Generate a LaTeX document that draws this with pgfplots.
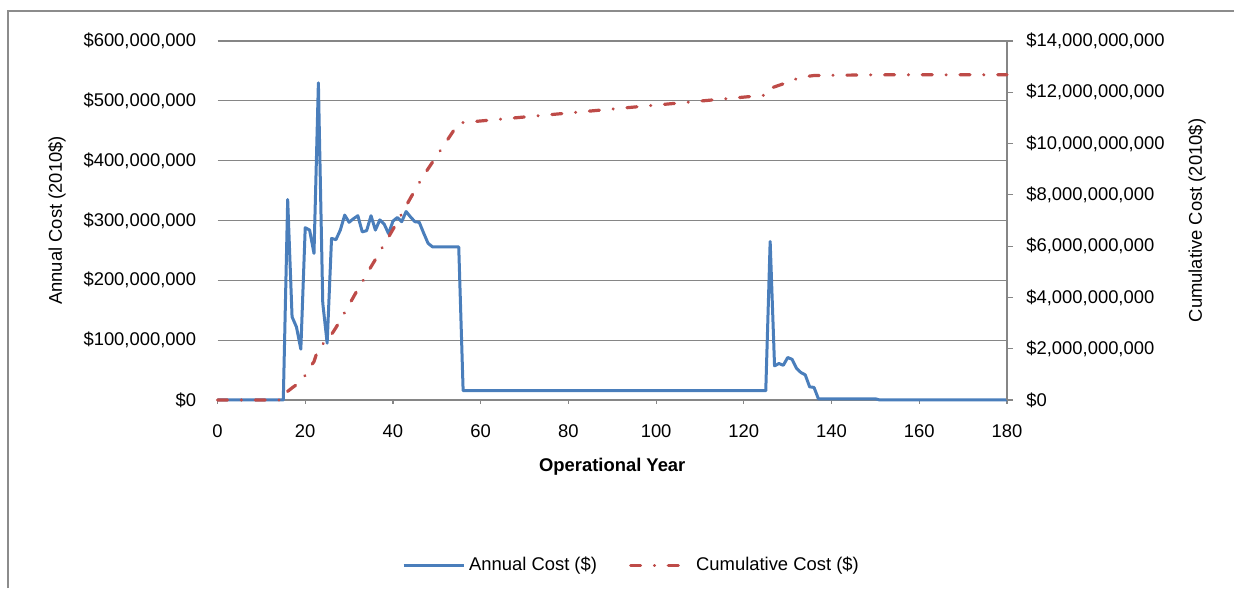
\documentclass[border=0pt]{standalone}
\usepackage{pgfplots}
\pgfplotsset{compat=1.18}
\usepackage{fontspec}
\setmainfont{Liberation Sans}
\definecolor{cblue}{HTML}{4A7EBB}
\definecolor{cred}{HTML}{BE4B48}
\definecolor{cgray}{HTML}{868686}
\definecolor{cframe}{HTML}{8C8C8C}
\newcommand{\f}{\fontsize{9.2}{11}\selectfont}
\begin{document}
\begin{tikzpicture}
\useasboundingbox (0,0) rectangle (617pt,294pt);
\draw[cframe, line width=0.7pt] (4pt,0) -- (4pt,288.5pt) -- (617pt,288.5pt);
\begin{axis}[
  at={(108.75pt,94pt)}, anchor=south west, scale only axis,
  width=394.75pt, height=179.5pt,
  xmin=0, xmax=180, ymin=0, ymax=600,
  xtick={0,20,...,180},
  /pgf/number format/assume math mode=true,
  ytick={0,100,...,600},
  yticklabels={\$0,{\$100,000,000},{\$200,000,000},{\$300,000,000},{\$400,000,000},{\$500,000,000},{\$600,000,000}},
  axis x line*=bottom, axis y line*=left,
  y axis line style={draw=none},
  x axis line style={cgray, line width=0.6pt, -},
  ymajorgrids, grid style={cgray, line width=0.6pt},
  xtick style={cgray, line width=0.6pt},
  ytick style={draw=none},
  major tick length=2pt, tick align=outside,
  tick label style={font=\f},
  xticklabel style={anchor=north, inner sep=0pt, yshift=-10pt},
  yticklabel style={anchor=east, inner sep=0pt, xshift=-8.5pt},
  xlabel={Operational Year},
  xlabel style={font=\f\bfseries, at={(axis description cs:0.5,-0.1866)}, anchor=center},
  ylabel={Annual Cost (2010\$)},
  ylabel style={font=\f, at={(axis description cs:-0.2033,0.5)}, anchor=center},
  clip=false,
]
\addplot[cblue, line width=1.5pt, line join=round] coordinates {
(0,0) (15,0) (16,335) (17,139) (18,122) (19,85) (20,288) (21,284) (22,245) (23,530)
(24,162) (25,95) (26,270) (27,268) (28,284) (29,309) (30,297) (31,303) (32,308) (33,281)
(34,283) (35,308) (36,284) (37,301) (38,294) (39,278) (40,299) (41,305) (42,298) (43,315)
(44,306) (45,298) (46,297) (47,279) (48,262) (49,256) (55,256) (56,15.5) (125,15.5)
(126,265) (127,57) (128,61) (129,58) (130,71) (131,68) (132,53) (133,46) (134,42)
(135,22) (136,21) (137,2) (150,2) (151,0) (180,0)
};
\end{axis}
\begin{axis}[
  at={(108.75pt,94pt)}, anchor=south west, scale only axis,
  width=394.75pt, height=179.5pt,
  xmin=0, xmax=180, ymin=0, ymax=14,
  axis x line=none, axis y line*=right,
  y axis line style={cgray, line width=0.6pt, -},
  ytick={0,2,...,14},
  yticklabels={\$0,{\$2,000,000,000},{\$4,000,000,000},{\$6,000,000,000},{\$8,000,000,000},{\$10,000,000,000},{\$12,000,000,000},{\$14,000,000,000}},
  ytick style={cgray, line width=0.6pt},
  major tick length=3pt, tick align=outside,
  yticklabel style={font=\f, anchor=west, inner sep=0pt, xshift=6.5pt},
  ylabel={Cumulative Cost (2010\$)},
  ylabel style={font=\f, at={(axis description cs:1.2407,0.5)}, anchor=center},
  clip=false,
  legend style={at={(axis description cs:0.5256,-0.46)}, anchor=center, draw=none,
    font=\f, legend columns=2, /tikz/every even column/.append style={column sep=14pt}},
  legend image code/.code={\draw[#1] (0pt,0pt) -- (30pt,0pt);},
]
\addlegendimage{cblue, line width=1.5pt}
\addlegendentry{Annual Cost (\$)}
\addplot[cred, line width=1.6pt, line cap=round, dash pattern=on 5pt off 6.9pt on 0.05pt off 6.9pt] coordinates {
(0,0) (15,0) (16,0.335) (17,0.474) (18,0.596) (19,0.681) (20,0.969) (21,1.253) (22,1.498)
(23,2.028) (24,2.190) (25,2.285) (26,2.555) (27,2.823) (28,3.107) (29,3.416) (30,3.713)
(31,4.016) (32,4.324) (33,4.605) (34,4.888) (35,5.196) (36,5.480) (37,5.781) (38,6.075)
(39,6.353) (40,6.652) (41,6.957) (42,7.255) (43,7.570) (44,7.876) (45,8.174) (46,8.471)
(47,8.750) (48,9.012) (49,9.268) (50,9.524) (51,9.780) (52,10.036) (53,10.292) (54,10.548)
(55,10.804) (56,10.8195) (125,11.889) (126,12.154) (127,12.211) (128,12.272) (129,12.330)
(130,12.401) (131,12.469) (132,12.522) (133,12.568) (134,12.610) (135,12.632) (136,12.653)
(137,12.655) (150,12.681) (180,12.681)
};
\addlegendentry{Cumulative Cost (\$)}
\end{axis}
\end{tikzpicture}
\end{document}
